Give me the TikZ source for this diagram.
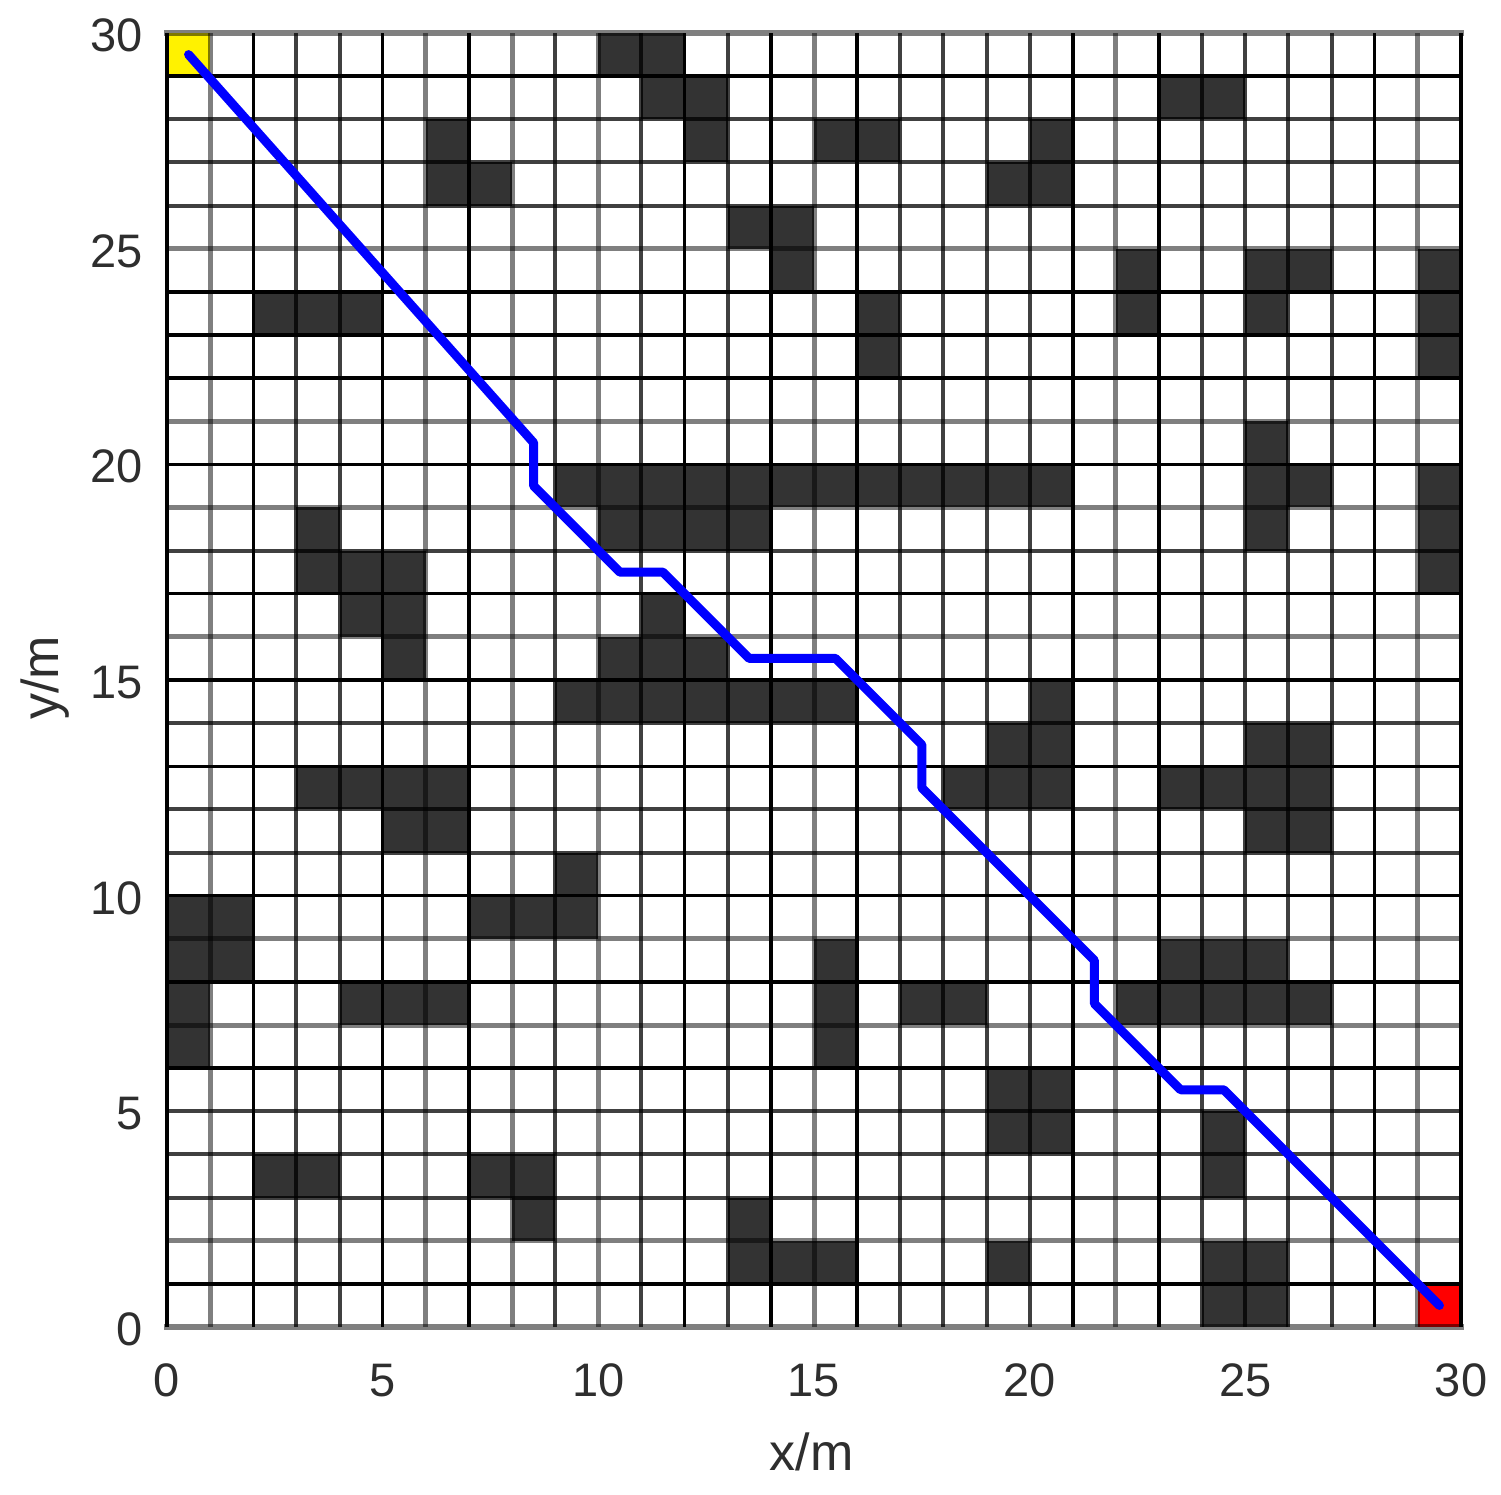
\documentclass[tikz,border=0pt]{standalone}
\usepackage{fontspec}
\setmainfont{Liberation Sans}
\definecolor{obst}{HTML}{333333}
\definecolor{axtext}{HTML}{2E2E2E}
\definecolor{pathblue}{HTML}{0000FF}
\tikzset{
  lineB/.style={line width=3.5pt,draw=black},
  lineG/.style={line width=5pt,draw=black,draw opacity=0.5},
  lineD/.style={line width=4pt,draw=black,draw opacity=0.75},
  ticklab/.style={inner sep=0pt,text=axtext,font=\fontsize{47}{50}\selectfont},
  axlab/.style={inner sep=0pt,text=axtext,font=\fontsize{52}{56}\selectfont},
  route/.style={draw=pathblue,line width=9pt,line join=round,line cap=round}
}
\begin{document}
\begin{tikzpicture}[x=1pt,y=1pt]
\useasboundingbox (0,0) rectangle (1501,-1495);
\fill[white] (0,0) rectangle (1501,-1495);
\begin{scope}[shift={(167pt,-1327pt)},x=43.133pt,y=43.133pt]
  % obstacles
  \foreach \r/\cols in {
    29/{10,11},
    28/{11,12,23,24},
    27/{6,12,15,16,20},
    26/{6,7,19,20},
    25/{13,14},
    24/{14,22,25,26,29},
    23/{2,3,4,16,22,25,29},
    22/{16,29},
    20/{25},
    19/{9,10,11,12,13,14,15,16,17,18,19,20,25,26,29},
    18/{3,10,11,12,13,25,29},
    17/{3,4,5,29},
    16/{4,5,11},
    15/{5,10,11,12},
    14/{9,10,11,12,13,14,15,20},
    13/{19,20,25,26},
    12/{3,4,5,6,18,19,20,23,24,25,26},
    11/{5,6,25,26},
    10/{9},
    9/{0,1,7,8,9},
    8/{0,1,15,23,24,25},
    7/{0,4,5,6,15,17,18,22,23,24,25,26},
    6/{0,15},
    5/{19,20},
    4/{19,20,24},
    3/{2,3,7,8,24},
    2/{8,13},
    1/{13,14,15,19,24,25},
    0/{24,25}} {
    \foreach \c in \cols {
      \fill[obst] (\c,\r) rectangle ++(1,1);
    }
  }
  % start and goal cells
  \fill[yellow] (0,29) rectangle (1,30);
  \fill[red] (29,0) rectangle (30,1);
  % vertical grid lines
  \foreach \i/\s in {1/G,2/B,3/D,4/D,5/B,6/G,7/B,8/G,9/D,10/G,11/D,12/B,13/D,14/B,15/G,
                     16/B,17/D,18/D,19/D,20/D,21/B,22/G,23/B,24/D,25/D,26/D,27/D,28/B,29/G} {
    \draw[line\s] (\i,0) -- (\i,30);
  }
  % horizontal grid lines
  \foreach \j/\s in {1/B,2/G,3/D,4/D,5/D,6/B,7/G,8/B,9/G,10/B,11/D,12/D,13/B,14/D,15/B,
                     16/G,17/B,18/D,19/G,20/B,21/G,22/B,23/B,24/B,25/G,26/D,27/D,28/D,29/B} {
    \draw[line\s] (0,\j) -- (30,\j);
  }
  % frame
  \draw[line width=6pt,draw=black,draw opacity=0.5,line cap=rect] (0,0) -- (30,0);
  \draw[line width=6pt,draw=black,draw opacity=0.5,line cap=rect] (0,30) -- (30,30);
  \draw[line width=4pt,draw=black] (0,0) -- (0,30);
  \draw[line width=4pt,draw=black] (30,0) -- (30,30);
  % route
  \draw[route] (0.5,29.5) -- (8.5,20.5) -- (8.5,19.5) -- (10.5,17.5) -- (11.5,17.5)
    -- (13.5,15.5) -- (15.5,15.5) -- (17.5,13.5) -- (17.5,12.5) -- (21.5,8.5)
    -- (21.5,7.5) -- (23.5,5.5) -- (24.5,5.5) -- (29.5,0.5);
  % tick labels
  \foreach \v in {0,5,10,15,20,25,30} {
    \node[ticklab,anchor=east] (yt\v) at (-0.556,\v-0.05) {\v};
    \node[ticklab,anchor=north] (xt\v) at (\v,-0.85) {\v};
  }
  \node[axlab] (xlab) at (14.95,-2.9) {x/m};
  \node[axlab,rotate=90] (ylab) at (-2.83,15.05) {y/m};
\end{scope}
\end{tikzpicture}
\end{document}
